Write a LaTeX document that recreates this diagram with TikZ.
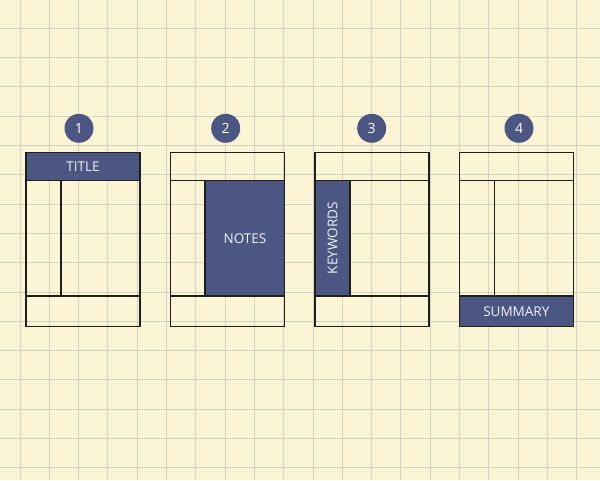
\documentclass[tikz,border=0pt]{standalone}
\usepackage{fontspec}
\setmainfont{Open Sans}
\usepackage{tikz}
\usetikzlibrary{positioning}
\usepackage{xcolor}

\definecolor{paper}{HTML}{FCF5D5}
\definecolor{gridgray}{HTML}{D5D2C3}
\definecolor{navy}{HTML}{4B5682}
\definecolor{inkline}{HTML}{1E1E1A}

\tikzset{
  gridline/.style={draw=gridgray, line width=1pt},
  frame/.style={draw=inkline, line width=1.5pt},
  panel/.style={fill=navy, draw=inkline, line width=1.5pt},
  badge/.style={circle, fill=navy, text=white, minimum size=29pt, inner sep=0pt, font=\fontsize{14}{14}\selectfont},
  lbl/.style={text=white!92!navy, font=\fontsize{13.5}{14}\selectfont, inner sep=0pt}
}

\begin{document}
\begin{tikzpicture}[x=1pt, y=-1pt]
    \useasboundingbox (0,0) rectangle (600,480);
    \fill[paper] (0,0) rectangle (600,480);

    % squared paper
    \foreach \i in {0,...,19}
      \draw[gridline] ({20+29.3*\i},0) -- ++(0,480);
    \foreach \j in {0,...,15}
      \draw[gridline] (0,{28.3+29.3*\j}) -- ++(600,0);

    % layout 1 : title
    \begin{scope}[shift={(26,152.7)}]
      \draw[panel] (0,0) rectangle (114,28);
      \node[lbl] (title) at (57,14) {TITLE};
      \draw[frame] (0,0) rectangle (114,174);
      \draw[frame] (0,143.3) -- (114,143.3);
      \draw[frame] (35,28) -- (35,143.3);
    \end{scope}
    \node[badge] (one) at (79,128.3) {1};

    % layout 2 : notes
    \begin{scope}[shift={(170.7,152.7)}]
      \draw[panel] (34.5,28) rectangle (114,143.3);
      \node[lbl] (notes) at (74.25,85.6) {NOTES};
      \draw[frame] (0,0) rectangle (114,174);
      \draw[frame] (0,28) -- (114,28);
      \draw[frame] (0,143.3) -- (114,143.3);
    \end{scope}
    \node[badge] (two) at (225.7,128.3) {2};

    % layout 3 : keywords
    \begin{scope}[shift={(315,152.7)}]
      \draw[panel] (0,28) rectangle (35,143.3);
      \node[lbl, rotate=90] (keywords) at (17.5,85.6) {KEYWORDS};
      \draw[frame] (0,0) rectangle (114,174);
      \draw[frame] (0,28) -- (114,28);
      \draw[frame] (0,143.3) -- (114,143.3);
    \end{scope}
    \node[badge] (three) at (371.7,128.3) {3};

    % layout 4 : summary
    \begin{scope}[shift={(459.3,152.7)}]
      \draw[panel] (0,143.3) rectangle (114,174);
      \node[lbl] (summary) at (57,158.6) {SUMMARY};
      \draw[frame] (0,0) rectangle (114,174);
      \draw[frame] (0,28) -- (114,28);
      \draw[frame] (35,28) -- (35,143.3);
    \end{scope}
    \node[badge] (four) at (519,128.3) {4};
  \end{tikzpicture}
\end{document}
